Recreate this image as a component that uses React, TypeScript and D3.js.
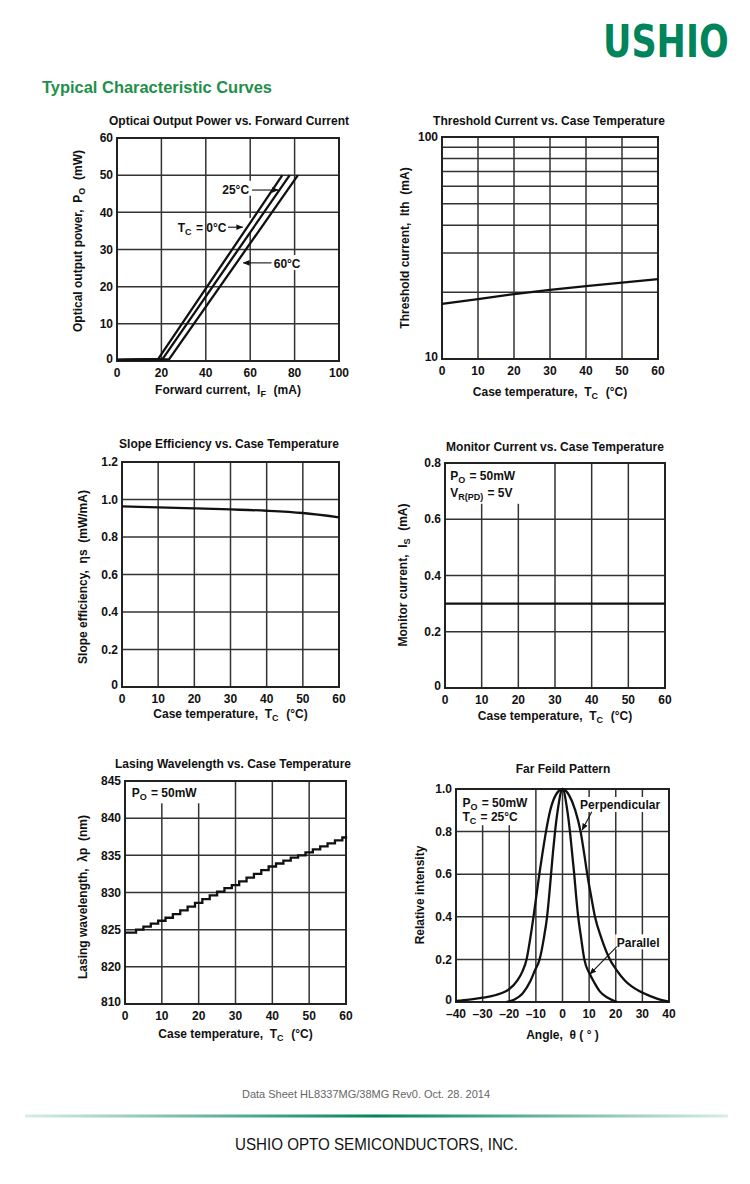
import React from "react";
import * as d3 from "d3";

const FONT = "'Liberation Sans', Arial, Helvetica, sans-serif";
const INK = "#111";
const GRID = "#333";
const GREEN = "#00845c";

// ---------- Chart 1: Optical output power vs forward current ----------
const forwardCurrentTicks = [0, 20, 40, 60, 80, 100];
const outputPowerTicks = [0, 10, 20, 30, 40, 50, 60];
const current0C = [0, 18.5, 74.5];
const power0C = [0.3, 0.5, 50];
const current25C = [0, 20.5, 77.8];
const power25C = [0.3, 0.5, 50];
const current60C = [0, 23.5, 81.5];
const power60C = [0.3, 0.5, 50];

// ---------- Chart 2: Threshold current vs case temperature ----------
const caseTempTicks = [0, 10, 20, 30, 40, 50, 60];
const thresholdGrid = [10, 20, 30, 40, 50, 60, 70, 80, 90, 100];
const thresholdLabels = [10, 100];
const thresholdTemp = [0, 10, 20, 30, 40, 50, 60];
const thresholdCurrent = [17.7, 18.6, 19.6, 20.5, 21.3, 22.1, 22.9];

// ---------- Chart 3: Slope efficiency ----------
const slopeTicks = [0, 0.2, 0.4, 0.6, 0.8, 1.0, 1.2];
const slopeTemp = [0, 10, 20, 30, 40, 50, 60];
const slopeValues = [0.963, 0.958, 0.953, 0.947, 0.94, 0.928, 0.905];

// ---------- Chart 4: Monitor current ----------
const monitorTicks = [0, 0.2, 0.4, 0.6, 0.8];
const monitorTemp = [0, 60];
const monitorValues = [0.3, 0.3];

// ---------- Chart 5: Lasing wavelength (axis break between 810 and 820) ----------
const wavelengthTicks = [810, 820, 825, 830, 835, 840, 845];
const wavelengthTemp = [0, 3, 5, 7, 9, 11, 13, 15, 17, 19, 21, 23, 25, 27, 29, 31, 33, 35, 37, 39, 41, 43, 45, 47, 49, 51, 53, 55, 57, 59, 60];
const wavelengthValues = [824.6, 825.0, 825.4, 825.8, 826.2, 826.6, 827.1, 827.6, 828.1, 828.6, 829.1, 829.6, 830.1, 830.6, 831.0, 831.5, 832.0, 832.5, 833.0, 833.5, 833.9, 834.3, 834.7, 835.0, 835.4, 835.8, 836.2, 836.6, 837.0, 837.4, 837.6];

// ---------- Chart 6: Far field pattern ----------
const angleTicks = [-40, -30, -20, -10, 0, 10, 20, 30, 40];
const intensityTicks = [0, 0.2, 0.4, 0.6, 0.8, 1.0];
const perpAngle = [-40, -35, -30, -25, -20, -17, -15, -13.5, -12.1, -10.9, -9.8, -8.7, -7.5, -6.2, -4.6, -2.6, 0, 2.5, 4.8, 6.8, 8.1, 9.3, 10.7, 12.2, 14.6, 17.8, 20.3, 23.5, 29, 33.5, 37, 40];
const perpValue = [0.005, 0.011, 0.02, 0.033, 0.06, 0.1, 0.145, 0.2, 0.3, 0.4, 0.5, 0.6, 0.7, 0.8, 0.9, 0.97, 1.0, 0.97, 0.9, 0.8, 0.7, 0.6, 0.5, 0.4, 0.3, 0.2, 0.15, 0.1, 0.05, 0.025, 0.01, 0.002];
const paraAngle = [-21, -18, -15, -12, -10.3, -8.6, -7, -5.8, -5, -4.3, -3.6, -2.8, -1.8, 0, 1.8, 2.8, 3.6, 4.4, 5.1, 5.9, 7, 8.2, 10.3, 12, 14, 17, 20.5];
const paraValue = [0, 0.012, 0.04, 0.1, 0.15, 0.2, 0.3, 0.4, 0.5, 0.6, 0.7, 0.8, 0.9, 1.0, 0.9, 0.8, 0.7, 0.6, 0.5, 0.4, 0.3, 0.2, 0.13, 0.09, 0.05, 0.02, 0];

const zip = (xs: number[], ys: number[]) => xs.map((v, i) => [v, ys[i]] as [number, number]);

const Sub = ({ t }: { t: string }) => (
  <>
    <tspan dy={3} fontSize={9}>{t}</tspan>
    <tspan dy={-3}>{"\u200A"}</tspan>
  </>
);

function Panel(p: any) {
  const xr0 = p.x.range();
  const yr0 = p.y.range();
  const xl = xr0[0];
  const xr = xr0[xr0.length - 1];
  const yb = yr0[0];
  const yt = yr0[yr0.length - 1];
  const minY = p.yLabels[0];
  return (
    <g>
      <text x={p.titleX} y={p.titleY} textAnchor="middle" fontSize={12} fontWeight="bold">{p.title}</text>
      <g stroke={GRID} strokeWidth={1.5}>
        {p.xGrid.map((v: number) => (
          <line key={"gx" + v} x1={p.x(v)} x2={p.x(v)} y1={yb} y2={yt} />
        ))}
        {p.yGrid.map((v: number) => (
          <line key={"gy" + v} x1={xl} x2={xr} y1={p.y(v)} y2={p.y(v)} />
        ))}
      </g>
      {p.mask && (
        <rect
          x={p.x(p.mask[0])}
          y={p.y(p.mask[3])}
          width={p.x(p.mask[2]) - p.x(p.mask[0])}
          height={p.y(p.mask[1]) - p.y(p.mask[3])}
          fill="#fff"
        />
      )}
      <rect x={xl} y={yt} width={xr - xl} height={yb - yt} fill="none" stroke="#222" strokeWidth={2} />
      {p.children}
      <g fontSize={12} fontWeight="bold">
        {p.yLabels.map((v: number) => (
          <text key={"yl" + v} x={xl - 4} y={p.y(v) - (v === minY ? 2 : 0)} dy="0.35em" textAnchor="end">
            {p.yFmt ? p.yFmt(v) : String(v)}
          </text>
        ))}
        {p.xLabels.map((v: number) => (
          <text key={"xl" + v} x={p.x(v)} y={yb + 11.5} dy="0.35em" textAnchor="middle">
            {p.xFmt ? p.xFmt(v) : String(v)}
          </text>
        ))}
      </g>
      <text x={(xl + xr) / 2} y={yb + p.xTitleDy} dy="0.35em" textAnchor="middle" fontSize={12} fontWeight="bold" style={{ whiteSpace: "pre" }}>
        {p.xTitle}
      </text>
      <text
        transform={`translate(${xl - p.yTitleGap},${p.yTitleY}) rotate(-90)`}
        dy="0.35em"
        textAnchor="middle"
        fontSize={12}
        fontWeight="bold"
        style={{ whiteSpace: "pre" }}
      >
        {p.yTitle}
      </text>
    </g>
  );
}

const caseTempTitle = (
  <>
    {"Case temperature,  T"}
    <Sub t="C" />
    {"  (°C)"}
  </>
);

export default function App() {
  // scales
  const x1 = d3.scaleLinear().domain([0, 100]).range([117, 339]);
  const y1 = d3.scaleLinear().domain([0, 60]).range([361, 138]);
  const x2 = d3.scaleLinear().domain([0, 60]).range([442, 658]);
  const y2 = d3.scaleLog().domain([10, 100]).range([359, 137]);
  const x3 = d3.scaleLinear().domain([0, 60]).range([122, 339]);
  const y3 = d3.scaleLinear().domain([0, 1.2]).range([687, 462]);
  const x4 = d3.scaleLinear().domain([0, 60]).range([445, 665]);
  const y4 = d3.scaleLinear().domain([0, 0.8]).range([688, 463]);
  const x5 = d3.scaleLinear().domain([0, 60]).range([125, 346]);
  // polylinear: 810 → 820 occupies one 5 nm step (axis break)
  const y5 = d3.scaleLinear().domain([810, 820, 845]).range([1004, 1004 - 223 / 6, 781]);
  const x6 = d3.scaleLinear().domain([-40, 40]).range([456, 669]);
  const y6 = d3.scaleLinear().domain([0, 1]).range([1002, 789]);

  const line = (x: any, y: any, curve: any = d3.curveLinear) =>
    d3.line<[number, number]>().x((d) => x(d[0])).y((d) => y(d[1])).curve(curve);

  const l1 = line(x1, y1);
  const l2 = line(x2, y2);
  const l3 = line(x3, y3, d3.curveMonotoneX);
  const l4 = line(x4, y4);
  const l5 = line(x5, y5, d3.curveStepAfter);
  const l6 = line(x6, y6, d3.curveMonotoneX);

  const curveStyle = { fill: "none", stroke: INK, strokeWidth: 2.3 };
  const arrow = { stroke: INK, strokeWidth: 1.1, markerEnd: "url(#ah)" } as any;

  const fmt1 = (v: number) => (v === 0 ? "0" : v.toFixed(1));
  const fmtAngle = (v: number) => (v < 0 ? "\u2013" + Math.abs(v) : String(v));

  return (
    <svg
      width={750}
      height={1184}
      viewBox="0 0 750 1184"
      style={{ position: "absolute", left: 0, top: 0, background: "#fff" }}
      fontFamily={FONT}
      fill={INK}
    >
      <defs>
        <marker id="ah" viewBox="0 0 10 10" refX="9" refY="5" markerWidth="7" markerHeight="7" orient="auto" markerUnits="userSpaceOnUse">
          <path d="M0,1 L10,5 L0,9 z" fill={INK} />
        </marker>
        <linearGradient id="footLine" x1="0" x2="1" y1="0" y2="0">
          <stop offset="0" stopColor={GREEN} stopOpacity={0.15} />
          <stop offset="0.5" stopColor={GREEN} stopOpacity={1} />
          <stop offset="1" stopColor={GREEN} stopOpacity={0.15} />
        </linearGradient>
      </defs>
      <rect x={0} y={0} width={750} height={1184} fill="#fff" />

      {/* Header */}
      <text
        transform="translate(603,57) scale(1,1.27)"
        x={0}
        y={0}
        fontSize={35}
        fontWeight="bold"
        fill={GREEN}
        fontFamily="'DejaVu Sans', sans-serif"
      >
        USHIO
      </text>
      <text x={42} y={93} fontSize={16} fontWeight="bold" fill="#1f8f4a" textLength={230} lengthAdjust="spacingAndGlyphs">
        Typical Characteristic Curves
      </text>

      {/* Chart 1 */}
      <Panel
        x={x1}
        y={y1}
        xGrid={forwardCurrentTicks}
        yGrid={outputPowerTicks}
        xLabels={forwardCurrentTicks}
        yLabels={outputPowerTicks}
        title="Opticai Output Power vs. Forward Current"
        titleX={229}
        titleY={125}
        xTitle={<>{"Forward current,  I"}<Sub t="F" />{"  (mA)"}</>}
        xTitleDy={29}
        yTitle={<>{"Optical output power,  P"}<Sub t="O" />{"  (mW)"}</>}
        yTitleGap={39}
        yTitleY={241}
      >
        {/* label backgrounds */}
        <rect x={x1(46)} y={y1(38.5)} width={x1(50) - x1(46) + 26} height={15} fill="#fff" />
        <rect x={x1(44.5)} y={y1(48.5)} width={36} height={15} fill="#fff" />
        <rect x={x1(70)} y={y1(28.5)} width={36} height={15} fill="#fff" />
        <path d={l1(zip(current0C, power0C)) || ""} {...curveStyle} />
        <path d={l1(zip(current25C, power25C)) || ""} {...curveStyle} />
        <path d={l1(zip(current60C, power60C)) || ""} {...curveStyle} />
        <g fontSize={12} fontWeight="bold">
          <text x={x1(59.5)} y={y1(46)} dy="0.35em" textAnchor="end">25°C</text>
          <line x1={x1(60.8)} y1={y1(46)} x2={x1(72.6)} y2={y1(46)} {...arrow} />
          <text x={x1(49.3)} y={y1(35.8)} dy="0.35em" textAnchor="end" style={{ whiteSpace: "pre" }}>
            {"T"}<Sub t="C" />{" = 0°C"}
          </text>
          <line x1={x1(50)} y1={y1(36)} x2={x1(56.6)} y2={y1(36)} {...arrow} />
          <text x={x1(70.6)} y={y1(26.1)} dy="0.35em">60°C</text>
          <line x1={x1(69.6)} y1={y1(26.4)} x2={x1(56.9)} y2={y1(26.4)} {...arrow} />
        </g>
      </Panel>

      {/* Chart 2 */}
      <Panel
        x={x2}
        y={y2}
        xGrid={caseTempTicks}
        yGrid={thresholdGrid}
        xLabels={caseTempTicks}
        yLabels={thresholdLabels}
        title="Threshold Current vs. Case Temperature"
        titleX={549}
        titleY={125}
        xTitle={caseTempTitle}
        xTitleDy={33}
        yTitle={"Threshold current,  Ith  (mA)"}
        yTitleGap={37}
        yTitleY={248}
      >
        <path d={l2(zip(thresholdTemp, thresholdCurrent)) || ""} {...curveStyle} />
      </Panel>

      {/* Chart 3 */}
      <Panel
        x={x3}
        y={y3}
        xGrid={caseTempTicks}
        yGrid={slopeTicks}
        xLabels={caseTempTicks}
        yLabels={slopeTicks}
        yFmt={fmt1}
        title="Slope Efficiency vs. Case Temperature"
        titleX={229}
        titleY={448}
        xTitle={caseTempTitle}
        xTitleDy={27}
        yTitle={"Slope efficiency,  ηs  (mW/mA)"}
        yTitleGap={39}
        yTitleY={577}
      >
        <path d={l3(zip(slopeTemp, slopeValues)) || ""} {...curveStyle} />
      </Panel>

      {/* Chart 4 */}
      <Panel
        x={x4}
        y={y4}
        xGrid={caseTempTicks}
        yGrid={monitorTicks}
        xLabels={caseTempTicks}
        yLabels={monitorTicks}
        yFmt={fmt1}
        mask={[0, 0.655, 24, 0.8]}
        title="Monitor Current vs. Case Temperature"
        titleX={555}
        titleY={451}
        xTitle={caseTempTitle}
        xTitleDy={28}
        yTitle={<>{"Monitor current,  I"}<Sub t="S" />{"  (mA)"}</>}
        yTitleGap={42}
        yTitleY={575}
      >
        <path d={l4(zip(monitorTemp, monitorValues)) || ""} {...curveStyle} />
        <g fontSize={12} fontWeight="bold" style={{ whiteSpace: "pre" }}>
          <text x={x4(1.4)} y={y4(0.753)} dy="0.35em">{"P"}<Sub t="O" />{" = 50mW"}</text>
          <text x={x4(1.4)} y={y4(0.694)} dy="0.35em">{"V"}<Sub t="R(PD)" />{" = 5V"}</text>
        </g>
      </Panel>

      {/* Chart 5 */}
      <Panel
        x={x5}
        y={y5}
        xGrid={caseTempTicks}
        yGrid={wavelengthTicks}
        xLabels={caseTempTicks}
        yLabels={wavelengthTicks}
        mask={[0, 842, 22, 845]}
        title="Lasing Wavelength vs. Case Temperature"
        titleX={233}
        titleY={768}
        xTitle={caseTempTitle}
        xTitleDy={30}
        yTitle={"Lasing wavelength,  λp  (nm)"}
        yTitleGap={42}
        yTitleY={897}
      >
        <path d={l5(zip(wavelengthTemp, wavelengthValues)) || ""} {...curveStyle} />
        <g fontSize={12} fontWeight="bold" style={{ whiteSpace: "pre" }}>
          <text x={x5(1.8)} y={y5(843.35)} dy="0.35em">{"P"}<Sub t="O" />{" = 50mW"}</text>
        </g>
      </Panel>

      {/* Chart 6 */}
      <Panel
        x={x6}
        y={y6}
        xGrid={angleTicks}
        yGrid={intensityTicks}
        xLabels={angleTicks}
        yLabels={intensityTicks}
        xFmt={fmtAngle}
        yFmt={fmt1}
        mask={[-40, 0.83, -12.5, 1.0]}
        title="Far Feild Pattern"
        titleX={563}
        titleY={773}
        xTitle={"Angle,  θ ( ° )"}
        xTitleDy={33}
        yTitle={"Relative intensity"}
        yTitleGap={36}
        yTitleY={895}
      >
        <rect x={x6(6)} y={y6(0.925) - 8} width={82} height={15} fill="#fff" />
        <rect x={x6(19.8)} y={y6(0.28) - 8} width={46} height={15} fill="#fff" />
        <path d={l6(zip(perpAngle, perpValue)) || ""} {...curveStyle} />
        <path d={l6(zip(paraAngle, paraValue)) || ""} {...curveStyle} />
        <g fontSize={12} fontWeight="bold" style={{ whiteSpace: "pre" }}>
          <text x={x6(-37.6)} y={y6(0.934)} dy="0.35em">{"P"}<Sub t="O" />{" = 50mW"}</text>
          <text x={x6(-37.6)} y={y6(0.869)} dy="0.35em">{"T"}<Sub t="C" />{" = 25°C"}</text>
          <text x={x6(6.6)} y={y6(0.925)} dy="0.35em">Perpendicular</text>
          <line x1={x6(11)} y1={y6(0.893)} x2={x6(7.4)} y2={y6(0.808)} {...arrow} />
          <text x={x6(20.4)} y={y6(0.28)} dy="0.35em">Parallel</text>
          <line x1={x6(20.4)} y1={y6(0.26)} x2={x6(10.3)} y2={y6(0.131)} {...arrow} />
        </g>
      </Panel>

      {/* Footer */}
      <text x={366} y={1098} textAnchor="middle" fontSize={10.5} fill="#666" textLength={248} lengthAdjust="spacingAndGlyphs">
        Data Sheet HL8337MG/38MG Rev0. Oct. 28. 2014
      </text>
      <rect x={25} y={1114.5} width={703} height={3} fill="url(#footLine)" />
      <text x={376.5} y={1150} textAnchor="middle" fontSize={17} fill="#111" textLength={283} lengthAdjust="spacingAndGlyphs">
        USHIO OPTO SEMICONDUCTORS, INC.
      </text>
    </svg>
  );
}
